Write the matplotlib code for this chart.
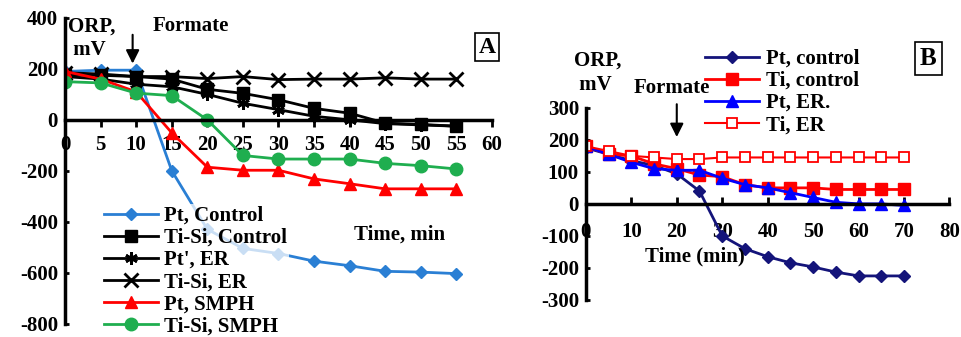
import numpy as np
import matplotlib.pyplot as plt

plt.rcParams['font.family'] = ['Liberation Serif', 'DejaVu Serif']
plt.rcParams['font.weight'] = 'bold'
plt.rcParams['axes.unicode_minus'] = False

# Panel A data (ORP, mV vs time, min)
t_a = [0, 5, 10, 15, 20, 25, 30, 35, 40, 45, 50, 55]
pt_control = [190, 195, 195, -200, -430, -505, -525, -555, -573, -595, -598, -604]
tisi_control = [175, 175, 170, 160, 120, 104, 79, 45, 26, -13, -18, -25]
pt_er = [170, 160, 140, 130, 100, 65, 40, 14, 0, -15, -20, -25]
tisi_er = [185, 180, 170, 170, 162, 170, 158, 160, 160, 165, 160, 160]
pt_smph = [190, 160, 110, -51, -186, -198, -198, -232, -251, -271, -271, -271]
tisi_smph = [150, 145, 105, 95, 0, -140, -154, -154, -154, -171, -180, -193]

# Panel B data
t_b = [0, 5, 10, 15, 20, 25, 30, 35, 40, 45, 50, 55, 60, 65, 70]
b_pt_control = [175, 155, 135, 120, 94, 40, -100, -140, -165, -184, -197, -213, -225, -225, -225]
b_ti_control = [180, 155, 150, 125, 110, 90, 85, 60, 50, 50, 50, 45, 45, 45, 45]
b_pt_er = [180, 155, 130, 110, 105, 105, 80, 60, 50, 35, 20, 5, 0, 0, -5]
b_ti_er = [180, 165, 150, 145, 140, 140, 145, 145, 145, 145, 145, 145, 145, 145, 145]

FS = 15

fig = plt.figure(figsize=(9.62, 3.37), dpi=100)

def style_axes(ax, tickdir, xpad):
    ax.spines['top'].set_visible(False)
    ax.spines['right'].set_visible(False)
    ax.spines['bottom'].set_position(('data', 0))
    for s in ('left', 'bottom'):
        ax.spines[s].set_linewidth(2.5)
    ax.tick_params(axis='x', direction=tickdir, length=5, width=2, labelsize=FS, pad=xpad)
    ax.tick_params(axis='y', direction='in', length=3, width=2, labelsize=FS, pad=5)
    ax.set_facecolor('none')

# ---- Panel A ----
axA = fig.add_axes([0.0676, 0.040, 0.4438, 0.9066])
axA.plot(t_a, pt_control, color='#2a7fd4', marker='D', ms=6, lw=2, label='Pt, Control')
axA.plot(t_a, tisi_control, color='black', marker='s', ms=9, lw=2, label='Ti-Si, Control')
axA.plot(t_a, pt_er, color='black', marker=(6, 2, 0), ms=9, mew=2, lw=2, label="Pt', ER")
axA.plot(t_a, tisi_er, color='black', marker='x', ms=10, mew=2, lw=2, label='Ti-Si, ER')
axA.plot(t_a, pt_smph, color='#ff0000', marker='^', ms=9, lw=2, label='Pt, SMPH')
axA.plot(t_a, tisi_smph, color='#1fae4f', marker='o', ms=9, lw=2, label='Ti-Si, SMPH')
axA.set_xlim(0, 60)
axA.set_ylim(-800, 400)
axA.set_xticks(range(0, 61, 5))
axA.set_yticks(range(-800, 401, 200))
style_axes(axA, 'out', 6)
axA.text(0.4, 405, 'ORP,\n mV', fontsize=FS, va='top', ha='left', linespacing=1.25)
axA.text(12.3, 408, 'Formate', fontsize=FS, va='top', ha='left')
axA.annotate('', xy=(9.5, 210), xytext=(9.5, 345),
             arrowprops=dict(arrowstyle='-|>', color='black', lw=1.5, mutation_scale=20))
fig.text(0.506, 0.86, 'A', fontsize=17, ha='center', va='center',
         bbox=dict(boxstyle='square,pad=0.15', fc='white', ec='black', lw=1.2))
axA.text(47, -450, 'Time, min', fontsize=FS, ha='center', va='center')
legA = fig.legend(*axA.get_legend_handles_labels(), loc='lower left', bbox_to_anchor=(0.095, -0.035),
                  fontsize=FS, frameon=True, handlelength=2.6, labelspacing=0.1,
                  borderpad=0.1, handletextpad=0.3)
legA.get_frame().set_edgecolor('none')
legA.get_frame().set_alpha(0.75)

# ---- Panel B ----
axB = fig.add_axes([0.609, 0.11, 0.378, 0.57])
axB.plot(t_b, b_pt_control, color='#14147a', marker='D', ms=6, lw=2, label='Pt, control')
axB.plot(t_b, b_ti_control, color='#ff0000', marker='s', ms=8, lw=2, label='Ti, control')
axB.plot(t_b, b_pt_er, color='#0000ff', marker='^', ms=8, lw=2, label='Pt, ER.')
axB.plot(t_b, b_ti_er, color='#ff0000', marker='s', ms=7, mfc='white', mew=1.3, lw=1.5, label='Ti, ER')
axB.set_xlim(0, 80)
axB.set_ylim(-300, 300)
axB.set_xticks(range(0, 81, 10))
axB.set_yticks(range(-300, 301, 100))
style_axes(axB, 'in', 13)
axB.text(-2.5, 480, 'ORP,\n mV', fontsize=FS, va='top', ha='left', linespacing=1.3)
axB.text(10.5, 392, 'Formate', fontsize=FS, va='top', ha='left')
axB.annotate('', xy=(20, 200), xytext=(20, 320),
             arrowprops=dict(arrowstyle='-|>', color='black', lw=1.5, mutation_scale=20))
axB.text(24, -165, 'Time (min)', fontsize=FS, ha='center', va='center')
fig.text(0.965, 0.825, 'B', fontsize=18, ha='center', va='center',
         bbox=dict(boxstyle='square,pad=0.2', fc='white', ec='black', lw=1.2))
legB = fig.legend(*axB.get_legend_handles_labels(), loc='upper left', bbox_to_anchor=(0.72, 0.892),
                  fontsize=FS, frameon=False, handlelength=2.6, labelspacing=0.1,
                  borderpad=0.1, handletextpad=0.3)

fig.savefig('out.png', dpi=100)
